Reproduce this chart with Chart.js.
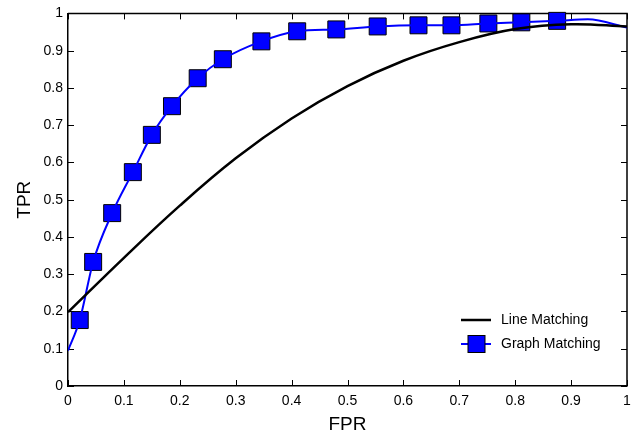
<!DOCTYPE html>
<html lang="en">
  <head>
    <meta charset="UTF-8" />
    <title>ROC</title>
    <script src="https://cdn.jsdelivr.net/npm/chart.js"></script>
    <style>
      body {
        margin: 0;
        background-color: white;
      }
      canvas {
        display: block;
      }
    </style>
  </head>
  <body>
    <canvas id="rocChart" width="640" height="438"></canvas>
    <script>
      // tick labels
      const xTickLabels = ['0', '0.1', '0.2', '0.3', '0.4', '0.5', '0.6', '0.7', '0.8', '0.9', '1'];
      const yTickLabels = ['0', '0.1', '0.2', '0.3', '0.4', '0.5', '0.6', '0.7', '0.8', '0.9', '1'];

      // Line Matching curve
      const lineFpr = [0, 0.1, 0.2, 0.3, 0.4, 0.5, 0.6, 0.7, 0.8, 0.9, 1];
      const lineTpr = [0.198, 0.344, 0.484, 0.611, 0.718, 0.805, 0.873, 0.923, 0.958, 0.971, 0.965];

      // Graph Matching markers
      const graphFpr = [0.021, 0.045, 0.079, 0.116, 0.15, 0.186, 0.232, 0.277, 0.346, 0.41, 0.48, 0.554, 0.627, 0.686, 0.752, 0.811, 0.875];
      const graphTpr = [0.177, 0.333, 0.464, 0.574, 0.674, 0.751, 0.826, 0.877, 0.925, 0.952, 0.957, 0.965, 0.968, 0.968, 0.973, 0.976, 0.98];

      // ends of the Graph Matching curve (no marker there)
      const graphStartFpr = [0];
      const graphStartTpr = [0.095];
      const graphEndFpr = [0.93, 1];
      const graphEndTpr = [0.984, 0.962];

      const toPoints = (xs, ys) => xs.map((x, i) => ({ x: x, y: ys[i] }));

      const lineColor = '#000000';
      const graphColor = '#0000ff';
      const fontFamily = '"Liberation Sans", Arial, Helvetica, sans-serif';

      // box with inward ticks on all four sides
      const boxTicks = {
        id: 'boxTicks',
        beforeDatasetsDraw(chart) {
          const { ctx, chartArea: a, scales } = chart;
          const len = 6;
          ctx.save();
          ctx.strokeStyle = '#000';
          ctx.lineWidth = 1;
          scales.x.ticks.forEach(t => {
            const px = Math.round(scales.x.getPixelForValue(t.value)) + 0.5;
            ctx.beginPath();
            ctx.moveTo(px, a.bottom);
            ctx.lineTo(px, a.bottom - len);
            ctx.moveTo(px, a.top);
            ctx.lineTo(px, a.top + len);
            ctx.stroke();
          });
          scales.y.ticks.forEach(t => {
            const py = Math.round(scales.y.getPixelForValue(t.value)) + 0.5;
            ctx.beginPath();
            ctx.moveTo(a.left, py);
            ctx.lineTo(a.left + len, py);
            ctx.moveTo(a.right, py);
            ctx.lineTo(a.right - len, py);
            ctx.stroke();
          });
          ctx.lineWidth = 1.5;
          ctx.beginPath();
          ctx.moveTo(a.left, a.top);
          ctx.lineTo(a.right, a.top);
          ctx.lineTo(a.right, a.bottom);
          ctx.stroke();
          ctx.restore();
        }
      };

      // legend inside the plot, lower right
      const insideLegend = {
        id: 'insideLegend',
        afterDraw(chart) {
          const { ctx, chartArea: a } = chart;
          const x0 = a.right - 166;
          const rows = [
            { text: 'Line Matching', y: a.bottom - 66, color: lineColor, width: 2.5, marker: false },
            { text: 'Graph Matching', y: a.bottom - 42, color: graphColor, width: 2, marker: true }
          ];
          ctx.save();
          ctx.font = '14px ' + fontFamily;
          ctx.textBaseline = 'middle';
          ctx.fillStyle = '#000';
          rows.forEach(r => {
            ctx.strokeStyle = r.color;
            ctx.lineWidth = r.width;
            ctx.beginPath();
            ctx.moveTo(x0, r.y);
            ctx.lineTo(x0 + 30, r.y);
            ctx.stroke();
            if (r.marker) {
              ctx.fillStyle = graphColor;
              ctx.fillRect(x0 + 7, r.y - 8.5, 17, 17);
              ctx.strokeStyle = '#000';
              ctx.lineWidth = 1;
              ctx.strokeRect(x0 + 7, r.y - 8.5, 17, 17);
              ctx.fillStyle = '#000';
            }
            ctx.fillText(r.text, x0 + 40, r.y);
          });
          ctx.restore();
        }
      };

      const ctx = document.getElementById('rocChart').getContext('2d');
      const rocChart = new Chart(ctx, {
        type: 'scatter',
        data: {
          datasets: [
            {
              label: 'Line Matching',
              data: toPoints(lineFpr, lineTpr),
              showLine: true,
              borderColor: lineColor,
              borderWidth: 2.5,
              pointRadius: 0,
              tension: 0.4
            },
            {
              label: 'Graph Matching curve',
              data: toPoints(
                graphStartFpr.concat(graphFpr, graphEndFpr),
                graphStartTpr.concat(graphTpr, graphEndTpr)
              ),
              showLine: true,
              borderColor: graphColor,
              borderWidth: 2,
              pointRadius: 0,
              cubicInterpolationMode: 'monotone'
            },
            {
              label: 'Graph Matching',
              data: toPoints(graphFpr, graphTpr),
              showLine: false,
              pointStyle: 'rect',
              pointRadius: 12,
              backgroundColor: graphColor,
              borderColor: '#000',
              borderWidth: 1,
              clip: false
            }
          ]
        },
        options: {
          responsive: false,
          animation: false,
          layout: { padding: { top: 13, right: 12, left: 0, bottom: 0 } },
          plugins: {
            legend: { display: false },
            tooltip: { enabled: false }
          },
          scales: {
            x: {
              type: 'linear',
              min: 0,
              max: 1,
              ticks: {
                stepSize: 0.1,
                maxRotation: 0,
                padding: 7,
                color: '#000',
                font: { family: fontFamily, size: 14 },
                callback: (v, i) => xTickLabels[i]
              },
              grid: { display: false, drawTicks: false },
              border: { display: true, color: '#000', width: 1.5 },
              title: {
                display: true,
                text: 'FPR',
                color: '#000',
                font: { family: fontFamily, size: 19 },
                padding: { top: 2, bottom: 2 }
              },
              afterFit: s => { s.height = 52; }
            },
            y: {
              type: 'linear',
              min: 0,
              max: 1,
              ticks: {
                stepSize: 0.1,
                padding: 5,
                color: '#000',
                font: { family: fontFamily, size: 14 },
                callback: (v, i) => yTickLabels[i]
              },
              grid: { display: false, drawTicks: false },
              border: { display: true, color: '#000', width: 1.5 },
              title: {
                display: true,
                text: 'TPR',
                color: '#000',
                font: { family: fontFamily, size: 19 },
                padding: { top: 13, bottom: 2 }
              },
              afterFit: s => { s.width = 68; }
            }
          }
        },
        plugins: [boxTicks, insideLegend]
      });
    </script>
  </body>
</html>
